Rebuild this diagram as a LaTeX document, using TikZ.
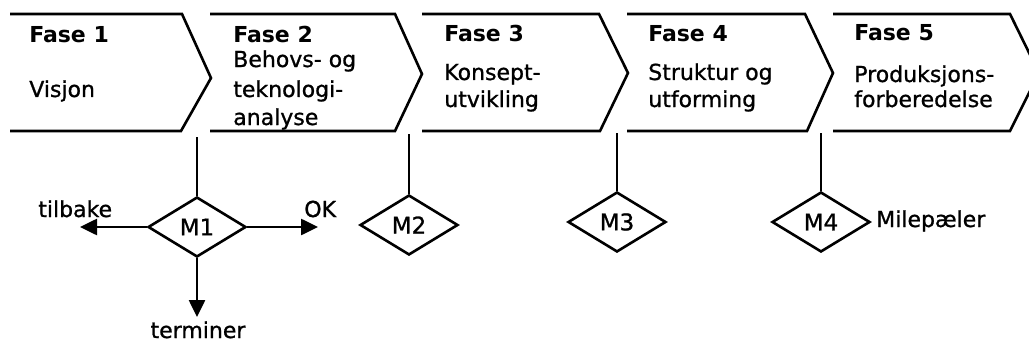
\documentclass[tikz,border=0pt]{standalone}
\usepackage{fontspec}
\setmainfont{DejaVu Sans}
\newfontfamily\heavyfont{DejaVu Sans}[FakeBold=1]
\usetikzlibrary{shapes.geometric,arrows.meta}
\begin{document}
\begin{tikzpicture}[x=1pt,y=-1pt,line width=2.6pt,
  chev/.style={line join=miter},
  ttl/.style={anchor=base west,inner sep=0pt,font=\fontsize{22}{26}\selectfont\bfseries},
  txt/.style={anchor=base west,inner sep=0pt,font=\fontsize{22}{26}\heavyfont},
  mile/.style={draw,diamond,minimum width=98pt,minimum height=60pt,inner sep=0pt,font=\fontsize{23}{26}\heavyfont},
  arr/.style={-{Triangle[length=17pt,width=16pt]}}]
\useasboundingbox (0,0) rectangle (1029,345);
\clip (0,0) rectangle (1029,345);
% phase chevrons
\draw[chev] (10,14) -- (182,14) -- (211,78) -- (181,131) -- (10,131);
\draw[chev] (210,14) -- (395,14) -- (422,74) -- (395,131) -- (210,131);
\draw[chev] (422,14) -- (599,14) -- (628,73) -- (600,131) -- (422,131);
\draw[chev] (627,14) -- (805,14) -- (833,73) -- (807,131) -- (627,131);
\draw[chev] (833,14) -- (1010,14) -- (1039,73) -- (1010,131) -- (833,131);
% phase texts
\node[ttl] (f1) at (28,43) {Fase 1};
\node[txt] (f1a) at (28,97) {Visjon};
\node[ttl] (f2) at (232,43) {Fase 2};
\node[txt] (f2a) at (232,67) {Behovs- og};
\node[txt] (f2b) at (232,97) {teknologi-};
\node[txt] (f2c) at (232,125) {analyse};
\node[ttl] (f3) at (443,42) {Fase 3};
\node[txt] (f3a) at (443,80) {Konsept-};
\node[txt] (f3b) at (443,107) {utvikling};
\node[ttl] (f4) at (647,42) {Fase 4};
\node[txt] (f4a) at (647,80) {Struktur og};
\node[txt] (f4b) at (647,107) {utforming};
\node[ttl] (f5) at (853,41) {Fase 5};
\node[txt] (f5a) at (853,82) {Produksjons-};
\node[txt] (f5b) at (853,107) {forberedelse};
% milestones
\node[mile] (m1) at (197,227) {M1};
\node[mile] (m2) at (409,225) {M2};
\node[mile] (m3) at (617,222) {M3};
\node[mile] (m4) at (821,222) {M4};
\coordinate (g1) at (197,137);
\coordinate (g2) at (409,134);
\coordinate (g3) at (617,133);
\coordinate (g4) at (821,133);
\draw (g1) -- (m1.north);
\draw (g2) -- (m2.north);
\draw (g3) -- (m3.north);
\draw (g4) -- (m4.north);
% decision arrows
\coordinate (back) at (80,227);
\coordinate (ok) at (318,227);
\coordinate (term) at (197,317);
\draw[arr] (m1.west) -- (back);
\draw[arr] (m1.east) -- (ok);
\draw[arr] (m1.south) -- (term);
\node[txt] (ltb) at (37,217) {tilbake};
\node[txt] (lok) at (303,217) {OK};
\node[txt,anchor=base] (lterm) at (198,338) {terminer};
\node[txt] (lmile) at (875,227) {Milepæler};
\end{tikzpicture}
\end{document}
